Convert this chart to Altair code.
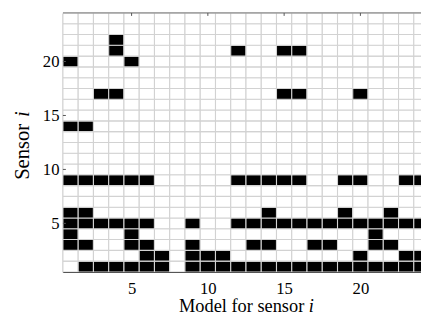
import altair as alt
import pandas as pd

n_models = 24
n_sensors = 24

# black cells: for each sensor (row), the models (columns) that are filled
black_cols = {
    1: [2, 3, 4, 5, 6, 7, 9, 10, 11, 12, 13, 14, 15, 16, 17, 18, 19, 20, 21, 22, 23, 24],
    2: [6, 7, 9, 10, 11, 20, 23, 24],
    3: [1, 2, 5, 6, 9, 13, 14, 17, 18, 21, 22],
    4: [1, 5, 21],
    5: [1, 2, 3, 4, 5, 6, 9, 12, 13, 14, 15, 16, 17, 18, 19, 20, 21, 22, 23, 24],
    6: [1, 2, 14, 19, 22],
    9: [1, 2, 3, 4, 5, 6, 12, 13, 14, 15, 16, 19, 20, 23, 24],
    14: [1, 2],
    17: [3, 4, 15, 16, 20],
    20: [1, 5],
    21: [4, 12, 15, 16],
    22: [4],
}

x_ticks = [5, 10, 15, 20]
y_ticks = [5, 10, 15, 20]

rows = []
for s in range(1, n_sensors + 1):
    for m in range(1, n_models + 1):
        rows.append({
            "x0": m - 0.5, "x1": m + 0.5,
            "y0": s - 0.5, "y1": s + 0.5,
            "on": 1 if m in black_cols.get(s, []) else 0,
        })
df = pd.DataFrame(rows)

W, H = 365, 264
xscale = alt.Scale(domain=[0.5, 0.5 + W / 15.55], nice=False, zero=False)
yscale = alt.Scale(domain=[0.5, n_sensors + 0.5], nice=False, zero=False)
FONT = "Liberation Serif"

xaxis = alt.Axis(values=x_ticks, ticks=False, grid=False, title=None,
                 labelFont=FONT, labelFontSize=17, labelColor="black",
                 labelPadding=8.5, domainColor="#555555", domainWidth=1.3)
yaxis = alt.Axis(values=y_ticks, ticks=False, grid=False, title=None,
                 labelFont=FONT, labelFontSize=17, labelColor="black",
                 labelPadding=4, domainColor="#555555", domainWidth=1.3)

cells = alt.Chart(df).mark_rect(clip=True, stroke="#d2d2d2", strokeWidth=1.1).encode(
    x=alt.X("x0:Q", scale=xscale, axis=xaxis),
    x2="x1:Q",
    y=alt.Y("y0:Q", scale=yscale, axis=yaxis),
    y2="y1:Q",
    color=alt.Color("on:N", scale=alt.Scale(domain=[0, 1], range=["white", "black"]), legend=None),
)

top_border = alt.Chart(pd.DataFrame({"a": [0]})).mark_rule(color="#888888", strokeWidth=1.3).encode(
    x=alt.value(0), x2=alt.value(W), y=alt.value(0)
)

top_ticks = alt.Chart(pd.DataFrame({"t": x_ticks})).mark_rule(color="#555555", strokeWidth=1).encode(
    x=alt.X("t:Q", scale=xscale), y=alt.value(0), y2=alt.value(3)
)
left_ticks = alt.Chart(pd.DataFrame({"t": y_ticks})).mark_rule(color="#555555", strokeWidth=1).encode(
    y=alt.Y("t:Q", scale=yscale), x=alt.value(0), x2=alt.value(3)
)

one = pd.DataFrame({"a": [0]})
xt_main = alt.Chart(one).mark_text(text="Model for sensor", font=FONT, fontSize=18.7,
                                   align="right", baseline="alphabetic", color="black").encode(
    x=alt.value(246), y=alt.value(305))
xt_i = alt.Chart(one).mark_text(text="i", font=FONT, fontSize=18.7, fontStyle="italic",
                                align="left", baseline="alphabetic", color="black").encode(
    x=alt.value(250.5), y=alt.value(305))
yt_main = alt.Chart(one).mark_text(text="Sensor", font=FONT, fontSize=21, angle=270,
                                   align="right", baseline="alphabetic", color="black").encode(
    x=alt.value(-35), y=alt.value(113))
yt_i = alt.Chart(one).mark_text(text="i", font=FONT, fontSize=21, fontStyle="italic", angle=270,
                                align="left", baseline="alphabetic", color="black").encode(
    x=alt.value(-35), y=alt.value(106))

chart = alt.layer(cells, top_border, top_ticks, left_ticks, xt_main, xt_i, yt_main, yt_i).properties(
    width=W, height=H,
    autosize=alt.AutoSizeParams(type="none"),
    padding={"left": 56, "top": 2, "right": 0, "bottom": 49},
).configure_view(stroke=None)

chart.save("out.html", embed_options={"renderer": "svg", "actions": False})
